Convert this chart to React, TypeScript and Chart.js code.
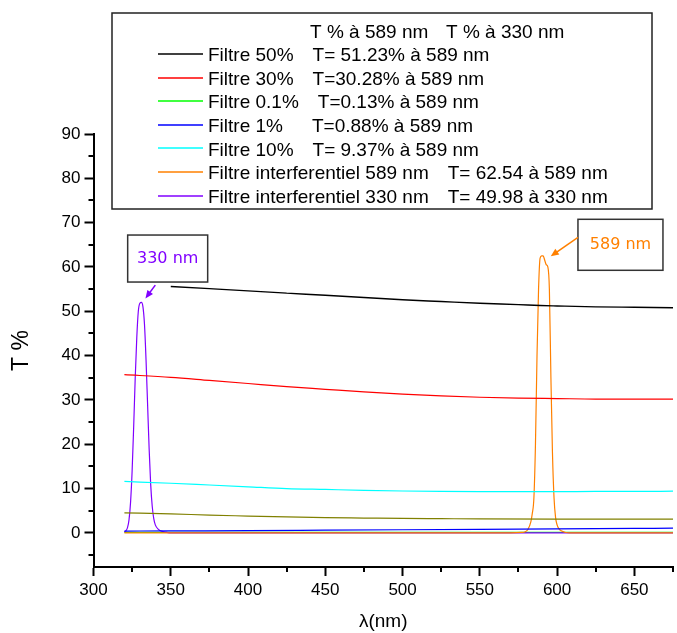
import React, { useEffect, useRef } from "react";
import { Chart, registerables } from "chart.js";

Chart.register(...registerables);

// ---------- Data ----------
const lambda50 = [350, 375, 400, 425, 450, 475, 500, 525, 550, 575, 589, 600, 625, 650, 675];
const t50 = [55.6, 55.1, 54.6, 54.1, 53.6, 53.1, 52.6, 52.2, 51.8, 51.5, 51.3, 51.2, 51.0, 50.9, 50.8];

const lambda30 = [320, 350, 375, 400, 425, 450, 475, 500, 525, 550, 575, 600, 625, 650, 675];
const t30 = [35.7, 35.1, 34.4, 33.7, 33.0, 32.4, 31.8, 31.3, 30.9, 30.6, 30.4, 30.3, 30.2, 30.2, 30.2];

const lambda01 = [320, 400, 500, 600, 675];
const t01 = [0.1, 0.1, 0.12, 0.13, 0.14];

const lambda1 = [320, 350, 400, 450, 500, 550, 600, 650, 675];
const t1 = [0.4, 0.45, 0.5, 0.6, 0.7, 0.8, 0.9, 1.0, 1.05];

const lambda10 = [320, 350, 375, 400, 425, 450, 475, 500, 525, 550, 575, 600, 625, 650, 675];
const t10 = [11.6, 11.2, 10.8, 10.4, 10.0, 9.8, 9.6, 9.45, 9.35, 9.3, 9.3, 9.3, 9.35, 9.35, 9.4];

const lambdaOlive = [320, 350, 375, 400, 425, 450, 475, 500, 525, 550, 600, 675];
const tOlive = [4.5, 4.3, 4.0, 3.8, 3.6, 3.45, 3.35, 3.25, 3.2, 3.15, 3.1, 3.1];

const lambdaI589 = [320, 400, 500, 570, 577, 579, 581, 583, 584, 585, 586, 587, 588, 589, 590, 591, 592, 593, 594, 595, 596, 597, 598, 599, 600, 601, 603, 605, 608, 620, 675];
const tI589 = [0, 0, 0, 0, 0.1, 0.2, 0.7, 2.5, 4.5, 8, 20, 40, 55, 62, 62.5, 62.5, 61.5, 60.5, 60, 55, 35, 18, 8, 3.5, 1.8, 1, 0.4, 0.15, 0, 0, 0];

const lambdaI330 = [320, 321, 322, 323, 324, 325, 326, 327, 328, 329, 330, 331, 332, 333, 334, 335, 336, 337, 338, 339, 340, 342, 344, 347, 350, 400, 500, 600, 675];
const tI330 = [0.2, 0.5, 1.2, 3, 7, 14, 24, 35, 44, 50, 51.8, 52, 51, 47, 39, 29, 19, 11, 6, 3.2, 1.8, 0.8, 0.4, 0.15, 0, 0, 0, 0, 0];

const seriesNames = [
  "Filtre 50%",
  "Filtre 30%",
  "Filtre 0.1%",
  "Filtre 1%",
  "Filtre 10%",
  "Filtre interferentiel 589 nm",
  "Filtre interferentiel 330 nm",
];
const seriesDetails = [
  "T= 51.23% à 589 nm",
  "T=30.28% à 589 nm",
  "T=0.13% à 589 nm",
  "T=0.88% à 589 nm",
  "T= 9.37% à 589 nm",
  "T= 62.54 à 589 nm",
  "T= 49.98 à 330 nm",
];
const legendHeader = ["T % à 589 nm", "T % à 330 nm"];
const oliveName = "Filtre (sans légende)";

const xTickValues = [300, 325, 350, 375, 400, 425, 450, 475, 500, 525, 550, 575, 600, 625, 650, 675];
const yTickValues = [-5, 0, 5, 10, 15, 20, 25, 30, 35, 40, 45, 50, 55, 60, 65, 70, 75, 80, 85, 90];

const annotations = [
  { text: "330 nm", color: "#8000FF", cx: 348, cy: 61.9, w: 80, h: 47, fromX: 340, fromY: 55.9, toX: 333.6, toY: 52.9 },
  { text: "589 nm", color: "#FF8000", cx: 641, cy: 65.0, w: 85, h: 51, fromX: 613.5, fromY: 66.7, toX: 595.9, toY: 62.4 },
];

// ---------- Helpers ----------
const SANS = '"Liberation Sans", Arial, sans-serif';
const pts = (xs: number[], ys: number[]) => xs.map((x, i) => ({ x, y: ys[i] }));

const COLORS = ["#000000", "#FF0000", "#00FF00", "#0000FF", "#00FFFF", "#FF8000", "#8000FF"];
const OLIVE = "#808000";

const minorTicksPlugin = {
  id: "minorTicks",
  afterDraw(chart: any) {
    const ctx = chart.ctx;
    const xs = chart.scales.x;
    const ys = chart.scales.y;
    ctx.save();
    ctx.strokeStyle = "#000";
    ctx.lineWidth = 2;
    xTickValues.filter((v) => v % 50 !== 0).forEach((v) => {
      const px = Math.round(xs.getPixelForValue(v));
      ctx.beginPath();
      ctx.moveTo(px, xs.top);
      ctx.lineTo(px, xs.top + 5);
      ctx.stroke();
    });
    yTickValues.filter((v) => v % 10 !== 0).forEach((v) => {
      const py = Math.round(ys.getPixelForValue(v));
      ctx.beginPath();
      ctx.moveTo(ys.right, py);
      ctx.lineTo(ys.right - 5, py);
      ctx.stroke();
    });
    ctx.restore();
  },
};

const annotationPlugin = {
  id: "peakLabels",
  afterDraw(chart: any) {
    const ctx = chart.ctx;
    const xs = chart.scales.x;
    const ys = chart.scales.y;
    ctx.save();
    annotations.forEach((a) => {
      const cx = xs.getPixelForValue(a.cx);
      const cy = ys.getPixelForValue(a.cy);
      ctx.fillStyle = "#fff";
      ctx.fillRect(cx - a.w / 2, cy - a.h / 2, a.w, a.h);
      ctx.strokeStyle = "#333";
      ctx.lineWidth = 1.5;
      ctx.strokeRect(cx - a.w / 2, cy - a.h / 2, a.w, a.h);
      ctx.fillStyle = a.color;
      ctx.font = '16px "DejaVu Sans", sans-serif';
      ctx.textAlign = "center";
      ctx.textBaseline = "middle";
      ctx.fillText(a.text, cx, cy);
      // arrow
      const x1 = xs.getPixelForValue(a.fromX);
      const y1 = ys.getPixelForValue(a.fromY);
      const x2 = xs.getPixelForValue(a.toX);
      const y2 = ys.getPixelForValue(a.toY);
      const ang = Math.atan2(y2 - y1, x2 - x1);
      const hl = 8;
      const hw = 3.5;
      ctx.strokeStyle = a.color;
      ctx.lineWidth = 1.5;
      ctx.beginPath();
      ctx.moveTo(x1, y1);
      ctx.lineTo(x2 - Math.cos(ang) * hl * 0.8, y2 - Math.sin(ang) * hl * 0.8);
      ctx.stroke();
      ctx.beginPath();
      ctx.moveTo(x2, y2);
      ctx.lineTo(x2 - Math.cos(ang) * hl - Math.sin(ang) * hw, y2 - Math.sin(ang) * hl + Math.cos(ang) * hw);
      ctx.lineTo(x2 - Math.cos(ang) * hl + Math.sin(ang) * hw, y2 - Math.sin(ang) * hl - Math.cos(ang) * hw);
      ctx.closePath();
      ctx.fillStyle = a.color;
      ctx.fill();
    });
    ctx.restore();
  },
};

const legendPlugin = {
  id: "boxLegend",
  afterDraw(chart: any) {
    const ctx = chart.ctx;
    const bx = 112, by = 13, bw = 540, bh = 196;
    ctx.save();
    ctx.fillStyle = "#fff";
    ctx.fillRect(bx, by, bw, bh);
    ctx.strokeStyle = "#222";
    ctx.lineWidth = 1.5;
    ctx.strokeRect(bx, by, bw, bh);
    ctx.font = `19px ${SANS}`;
    ctx.textBaseline = "middle";
    ctx.textAlign = "left";
    ctx.fillStyle = "#000";
    ctx.fillText(legendHeader[0], 310, 33);
    ctx.fillText(legendHeader[1], 446, 33);
    const rowH = 23.6;
    seriesNames.forEach((name, i) => {
      const y = 56 + i * rowH;
      ctx.strokeStyle = COLORS[i];
      ctx.lineWidth = 1.5;
      ctx.beginPath();
      ctx.moveTo(158, Math.round(y - 2));
      ctx.lineTo(203, Math.round(y - 2));
      ctx.stroke();
      ctx.fillStyle = "#000";
      ctx.fillText(name, 208, y);
      const nw = ctx.measureText(name).width;
      const dx = Math.max(312, 208 + nw + 19);
      ctx.fillText(seriesDetails[i], dx, y);
    });
    ctx.restore();
  },
};

export default function App() {
  const canvasRef = useRef<HTMLCanvasElement | null>(null);

  useEffect(() => {
    if (!canvasRef.current) return;
    const seriesData = [
      pts(lambda50, t50),
      pts(lambda30, t30),
      pts(lambda01, t01),
      pts(lambda1, t1),
      pts(lambda10, t10),
      pts(lambdaI589, tI589),
      pts(lambdaI330, tI330),
    ];
    const datasets: any[] = seriesNames.map((name, i) => ({
      label: name,
      data: seriesData[i],
      borderColor: COLORS[i],
      backgroundColor: COLORS[i],
      borderWidth: i === 0 ? 1.4 : 1.2,
      pointRadius: 0,
      cubicInterpolationMode: "monotone",
      fill: false,
      order: i === 2 ? 1 : 0,
    }));
    datasets.splice(5, 0, {
      label: oliveName,
      data: pts(lambdaOlive, tOlive),
      borderColor: OLIVE,
      backgroundColor: OLIVE,
      borderWidth: 1.2,
      pointRadius: 0,
      cubicInterpolationMode: "monotone",
      fill: false,
      order: 0,
    });

    const chart = new Chart(canvasRef.current, {
      type: "line",
      data: { datasets },
      plugins: [minorTicksPlugin, annotationPlugin, legendPlugin],
      options: {
        animation: false,
        responsive: true,
        maintainAspectRatio: false,
        layout: { padding: { top: 134, left: 0, right: 0, bottom: 0 } },
        plugins: {
          legend: { display: false },
          tooltip: { enabled: false },
          title: { display: false },
        },
        scales: {
          x: {
            type: "linear",
            min: 300,
            max: 675,
            afterBuildTicks: (scale: any) => {
              scale.ticks = xTickValues.map((v) => ({ value: v }));
            },
            afterFit: (scale: any) => {
              scale.height = 66;
            },
            ticks: {
              autoSkip: false,
              maxRotation: 0,
              padding: 4,
              color: "#000",
              font: { family: SANS, size: 17 },
              callback: (v: any) => (Number(v) % 50 === 0 ? String(v) : ""),
            },
            grid: {
              drawOnChartArea: false,
              drawTicks: true,
              tickLength: 9,
              tickWidth: 2,
              tickColor: (c: any) => (c.tick && c.tick.value % 50 === 0 ? "#000" : "rgba(0,0,0,0)"),
            },
            border: { display: true, color: "#000", width: 2 },
            title: {
              display: true,
              text: "λ(nm)",
              color: "#000",
              font: { family: SANS, size: 19 },
              padding: { top: 0, bottom: 0 },
            },
          },
          y: {
            type: "linear",
            min: -7.7,
            max: 90,
            afterBuildTicks: (scale: any) => {
              scale.ticks = yTickValues.map((v) => ({ value: v }));
            },
            afterFit: (scale: any) => {
              scale.width = 93.5;
            },
            ticks: {
              autoSkip: false,
              padding: 4,
              color: "#000",
              font: { family: SANS, size: 17 },
              callback: (v: any) => (Number(v) % 10 === 0 ? String(v) : ""),
            },
            grid: {
              drawOnChartArea: false,
              drawTicks: true,
              tickLength: 9,
              tickWidth: 2,
              tickColor: (c: any) => (c.tick && c.tick.value % 10 === 0 ? "#000" : "rgba(0,0,0,0)"),
            },
            border: { display: true, color: "#000", width: 2 },
            title: {
              display: true,
              text: "T %",
              color: "#000",
              font: { family: SANS, size: 23 },
              padding: { top: 7.5, bottom: 0 },
            },
          },
        },
      } as any,
    });
    return () => chart.destroy();
  }, []);

  return (
    <div style={{ position: "fixed", left: 0, top: 0, width: 677, height: 633, background: "#fff" }}>
      <canvas ref={canvasRef} />
    </div>
  );
}
